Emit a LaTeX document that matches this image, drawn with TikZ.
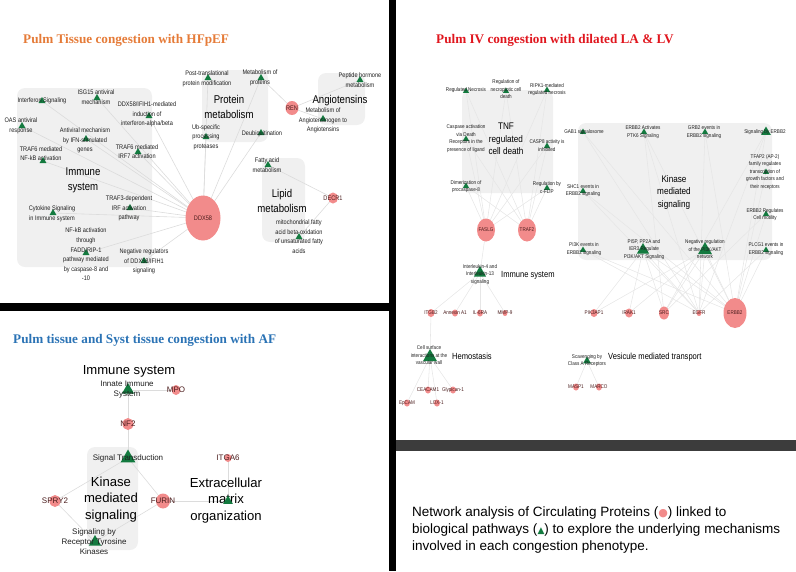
\documentclass[tikz,border=0pt]{standalone}
\usepackage{fontspec}
\setmainfont{Liberation Sans}
\newfontfamily\nar[FakeStretch=0.85]{Liberation Sans}
\newfontfamily\ttlfont{Liberation Serif}
\newfontfamily\symfont{DejaVu Sans}
\usetikzlibrary{shapes.geometric}
\definecolor{protpink}{HTML}{F28B8B}
\definecolor{pwgreen}{HTML}{137A3F}
\definecolor{boxgray}{HTML}{F0F0F0}
\definecolor{edgegray}{HTML}{DCDCDC}
\definecolor{edgegray2}{HTML}{E6E6E6}
\definecolor{lbltext}{HTML}{1E1E1E}
\definecolor{plbltext}{HTML}{4A1C1C}
\definecolor{torange}{HTML}{E57B38}
\definecolor{tred}{HTML}{E0161E}
\definecolor{tblue}{HTML}{2B73B5}
\definecolor{bargray}{HTML}{3C3C3C}
\pgfdeclarelayer{boxes}
\pgfdeclarelayer{edges}
\pgfsetlayers{boxes,edges,main}
\tikzset{
  tri/.style={regular polygon, regular polygon sides=3, fill=pwgreen, draw=none, inner sep=0pt, minimum size=#1},
  tri/.default=8,
  prot/.style 2 args={ellipse, fill=protpink, draw=none, inner sep=0pt, minimum width=#1, minimum height=#2},
  regbox/.style={fill=boxgray, draw=none, rounded corners=8pt},
  lnk/.style={draw=edgegray, line width=0.6pt},
  lnkb/.style={draw=edgegray2, line width=0.55pt},
  lone/.style={font=\nar\fontsize{6.6}{9.6}\selectfont, align=center, text=lbltext, inner sep=0pt},
  bigone/.style={font=\nar\fontsize{11.3}{15}\selectfont, align=center, text=black, inner sep=0pt},
  ltwo/.style={font=\nar\fontsize{5.4}{7.5}\selectfont, align=center, text=lbltext, inner sep=0pt},
  bigtwo/.style={font=\nar\fontsize{9.6}{12.3}\selectfont, align=center, text=black, inner sep=0pt},
  regtwo/.style={font=\nar\fontsize{8.9}{11}\selectfont, text=black, inner sep=0pt, anchor=west},
  lthree/.style={font=\fontsize{8}{10}\selectfont, align=center, text=lbltext, inner sep=0pt},
  bigthree/.style={font=\fontsize{13.1}{16.5}\selectfont, align=center, text=black, inner sep=0pt},
  pl1/.style={font=\nar\fontsize{6.6}{8}\selectfont, text=plbltext, inner sep=0pt},
  pl2/.style={font=\nar\fontsize{5.4}{7}\selectfont, text=plbltext, inner sep=0pt},
  pl3/.style={font=\fontsize{8}{10}\selectfont, text=plbltext, inner sep=0pt},
  ttl/.style={font=\ttlfont\bfseries\fontsize{13.2}{15}\selectfont, anchor=west, inner sep=0pt}
}
\begin{document}
\begin{tikzpicture}[x=1pt,y=-1pt]
\useasboundingbox (0,0) rectangle (796,571);
% separators
\fill[black] (389,0) rectangle (396,571);
\fill[black] (0,303) rectangle (389,311);
\fill[bargray] (396,440) rectangle (796,451);

% titles
\node[ttl, text=torange] (t1) at (23,40) {Pulm Tissue congestion with HFpEF};
\node[ttl, text=tred] (t2) at (436,40) {Pulm IV congestion with dilated LA \& LV};
\node[ttl, text=tblue] (t3) at (13,340) {Pulm tissue and Syst tissue congestion with AF};

% ================= Panel 1 =================
\begin{pgfonlayer}{boxes}
\fill[regbox] (17,88) rectangle (152,267);
\fill[regbox] (202,70) rectangle (268,142);
\fill[regbox] (318,73) rectangle (365,125);
\fill[regbox] (262,158) rectangle (305,242);
\end{pgfonlayer}
\node[bigone] (g1) at (83,180) {Immune\\system};
\node[bigone] (g2) at (229,106.5) {Protein\\metabolism};
\node[bigone] (g3) at (340,101) {Angiotensins};
\node[bigone] (g4) at (282,201) {Lipid\\metabolism};

\node[tri=8] (a1) at (42,101) {};
\node[tri=8] (a2) at (97,98) {};
\node[tri=8] (a3) at (22,126) {};
\node[tri=8] (a4) at (149,116) {};
\node[tri=8] (a5) at (86,139) {};
\node[tri=8] (a6) at (43,161) {};
\node[tri=8] (a7) at (138,152) {};
\node[tri=8] (a8) at (53,213) {};
\node[tri=8] (a9) at (130,208) {};
\node[tri=8] (a10) at (86,253) {};
\node[tri=8] (a11) at (144,261) {};
\node[tri=8] (a12) at (208,78) {};
\node[tri=8] (a13) at (261,78) {};
\node[tri=8] (a14) at (206,137) {};
\node[tri=8] (a15) at (261,133) {};
\node[tri=8] (a16) at (360,80) {};
\node[tri=8] (a17) at (323,119) {};
\node[tri=8] (a18) at (268,165) {};
\node[tri=8] (a19) at (299,237) {};

\node[lone] (a1l) at (42,101) {Interferon Signaling};
\node[lone] (a2l) at (96,97) {ISG15 antiviral\\mechanism};
\node[lone] (a3l) at (21,126) {OAS antiviral\\response};
\node[lone] (a4l) at (147,114.5) {DDX58/IFIH1-mediated\\induction of\\interferon-alpha/beta};
\node[lone] (a5l) at (85,140.5) {Antiviral mechanism\\by IFN-stimulated\\genes};
\node[lone] (a6l) at (41,153.5) {TRAF6 mediated\\NF-kB activation};
\node[lone] (a7l) at (137,151.5) {TRAF6 mediated\\IRF7 activation};
\node[lone] (a8l) at (52,213.5) {Cytokine Signaling\\in Immune system};
\node[lone] (a9l) at (129,208.5) {TRAF3-dependent\\IRF activation\\pathway};
\node[lone] (a10l) at (86,254.5) {NF-kB activation\\through\\FADD/RIP-1\\pathway mediated\\by caspase-8 and\\-10};
\node[lone] (a11l) at (144,261.5) {Negative regulators\\of DDX58/IFIH1\\signaling};
\node[lone] (a12l) at (207,78.5) {Post-translational\\protein modification};
\node[lone] (a13l) at (260,78) {Metabolism of\\proteins};
\node[lone] (a14l) at (206,137) {Ub-specific\\processing\\proteases};
\node[lone] (a15l) at (262,134) {Deubiquitination};
\node[lone] (a16l) at (360,80) {Peptide hormone\\metabolism};
\node[lone] (a17l) at (323,120.5) {Metabolism of\\Angiotensinogen to\\Angiotensins};
\node[lone] (a18l) at (267,165) {Fatty acid\\metabolism};
\node[lone] (a19l) at (299,236.5) {mitochondrial fatty\\acid beta-oxidation\\of unsaturated fatty\\acids};

\node[prot={35pt}{45pt}, label={[pl1]center:DDX58}] (ddx) at (203,218) {};
\node[prot={13pt}{14pt}, label={[pl1]center:REN}] (ren) at (292,108) {};
\node[prot={10pt}{11pt}, label={[pl1]center:DECR1}] (decr) at (333,198) {};

\begin{pgfonlayer}{edges}
\foreach \tg in {a1,a2,a3,a4,a5,a6,a7,a8,a9,a10,a11,a12,a13,a14,a15}
  \draw[lnk] (ddx.center) -- (\tg.center);
\foreach \tg in {a13,a16,a17}
  \draw[lnk] (ren.center) -- (\tg.center);
\foreach \tg in {a18,a19}
  \draw[lnk] (decr.center) -- (\tg.center);
\end{pgfonlayer}

% ================= Panel 2 =================
\begin{pgfonlayer}{boxes}
\fill[regbox] (462,90) rectangle (553,193);
\fill[regbox] (578,123) rectangle (772,260);
\end{pgfonlayer}
\node[bigtwo] (h1) at (506,139) {TNF\\regulated\\cell death};
\node[bigtwo] (h2) at (674,192.5) {Kinase\\mediated\\signaling};
\node[regtwo] (h3) at (501,275) {Immune system};
\node[regtwo] (h4) at (452,356) {Hemostasis};
\node[regtwo] (h5) at (608,357) {Vesicule mediated transport};

\node[tri=7] (b1) at (466,91) {};
\node[tri=7] (b2) at (506,91) {};
\node[tri=7] (b3) at (547,90) {};
\node[tri=7] (b4) at (466,139) {};
\node[tri=7] (b5) at (547,146) {};
\node[tri=7] (b6) at (466,186) {};
\node[tri=7] (b7) at (547,188) {};
\node[tri=7] (b8) at (583,132) {};
\node[tri=7] (b9) at (644,132) {};
\node[tri=7] (b10) at (705,132) {};
\node[tri=11] (b11) at (766,132) {};
\node[tri=7] (b12) at (766,172) {};
\node[tri=7] (b13) at (766,214) {};
\node[tri=7] (b14) at (583,191) {};
\node[tri=7] (b15) at (583,250) {};
\node[tri=14] (b16) at (643,250) {};
\node[tri=16] (b17) at (705,250) {};
\node[tri=7] (b18) at (766,250) {};
\node[tri=14] (b19) at (480,273) {};
\node[tri=16] (b20) at (430,357) {};
\node[tri=9] (b21) at (587,361) {};

\node[ltwo] (b1l) at (466,90) {Regulated Necrosis};
\node[ltwo] (b2l) at (506,89.5) {Regulation of\\necroptotic cell\\death};
\node[ltwo] (b3l) at (547,89.5) {RIPK1-mediated\\regulated necrosis};
\node[ltwo] (b4l) at (466,138.5) {Caspase activation\\via Death\\Receptors in the\\presence of ligand};
\node[ltwo] (b5l) at (547,145.5) {CASP8 activity is\\inhibited};
\node[ltwo] (b6l) at (466,186.5) {Dimerization of\\procaspase-8};
\node[ltwo] (b7l) at (547,187.5) {Regulation by\\c-FLIP};
\node[ltwo] (b8l) at (584,132) {GAB1 signalosome};
\node[ltwo] (b9l) at (643,132) {ERBB2 Activates\\PTK6 Signaling};
\node[ltwo] (b10l) at (704,132) {GRB2 events in\\ERBB2 signaling};
\node[ltwo] (b11l) at (765,132) {Signaling by ERBB2};
\node[ltwo] (b12l) at (765,172) {TFAP2 (AP-2)\\family regulates\\transcription of\\growth factors and\\their receptors};
\node[ltwo] (b13l) at (765,214.5) {ERBB2 Regulates\\Cell motility};
\node[ltwo] (b14l) at (583,190.5) {SHC1 events in\\ERBB2 signaling};
\node[ltwo] (b15l) at (584,249) {PI3K events in\\ERBB2 signaling};
\node[ltwo] (b16l) at (644,249.5) {PI5P, PP2A and\\IER3 Regulate\\PI3K/AKT Signaling};
\node[ltwo] (b17l) at (705,249.5) {Negative regulation\\of the PI3K/AKT\\network};
\node[ltwo] (b18l) at (766,249) {PLCG1 events in\\ERBB2 signaling};
\node[ltwo] (b19l) at (480,274.5) {Interleukin-4 and\\Interleukin-13\\signaling};
\node[ltwo] (b20l) at (429,355.5) {Cell surface\\interactions at the\\vascular wall};
\node[ltwo] (b21l) at (587,360.5) {Scavenging by\\Class A Receptors};

\node[prot={18pt}{23pt}, label={[pl2]center:FASLG}] (faslg) at (486,230) {};
\node[prot={18pt}{23pt}, label={[pl2]center:TRAF2}] (traf2) at (527,230) {};
\node[prot={7pt}{8pt}, label={[pl2]center:ITGB2}] (itgb2) at (431,313) {};
\node[prot={6pt}{7pt}, label={[pl2]center:Annexin A1}] (anx) at (455,313) {};
\node[prot={6pt}{7pt}, label={[pl2]center:IL-6RA}] (il6) at (480,313) {};
\node[prot={5pt}{6pt}, label={[pl2]center:MMP-9}] (mmp) at (505,313) {};
\node[prot={7pt}{8pt}, label={[pl2]center:PIK3AP1}] (pik) at (594,313) {};
\node[prot={8pt}{9pt}, label={[pl2]center:IRAK1}] (irak) at (629,313) {};
\node[prot={10pt}{13pt}, label={[pl2]center:SRC}] (src) at (664,313) {};
\node[prot={5pt}{6pt}, label={[pl2]center:EGFR}] (egfr) at (699,313) {};
\node[prot={23pt}{30pt}, label={[pl2]center:ERBB2}] (erbb) at (735,313) {};
\node[prot={6pt}{7pt}, label={[pl2]center:CEACAM1}] (cea) at (428,390) {};
\node[prot={6pt}{7pt}, label={[pl2]center:Glypican-1}] (gly) at (453,390) {};
\node[prot={6pt}{7pt}, label={[pl2]center:EpCAM}] (epc) at (407,403) {};
\node[prot={6pt}{7pt}, label={[pl2]center:LOX-1}] (lox) at (437,403) {};
\node[prot={6pt}{7pt}, label={[pl2]center:MASP1}] (masp) at (576,387) {};
\node[prot={6pt}{7pt}, label={[pl2]center:MARCO}] (marco) at (599,387) {};

\begin{pgfonlayer}{edges}
\foreach \sr in {faslg,traf2}
  \foreach \tg in {b1,b2,b3,b4,b5,b6,b7}
    \draw[lnkb] (\sr.center) -- (\tg.center);
\draw[lnkb] (faslg.center) -- (b19.center);
\foreach \sr in {itgb2,anx,il6,mmp}
  \draw[lnkb] (\sr.center) -- (b19.center);
\draw[lnkb] (itgb2.center) -- (b20.center);
\foreach \tg in {cea,gly,epc,lox}
  \draw[lnkb] (b20.center) -- (\tg.center);
\foreach \tg in {masp,marco}
  \draw[lnkb] (b21.center) -- (\tg.center);
\foreach \tg in {b8,b9,b10,b11,b12,b13,b14,b15,b16,b17,b18}
  \draw[lnkb] (erbb.center) -- (\tg.center);
\foreach \tg in {b8,b9,b10,b11,b14,b15,b16,b17,b18}
  \draw[lnkb] (egfr.center) -- (\tg.center);
\foreach \tg in {b9,b11,b13,b16,b17}
  \draw[lnkb] (src.center) -- (\tg.center);
\foreach \tg in {b16,b17}
  \draw[lnkb] (pik.center) -- (\tg.center);
\foreach \tg in {b16,b17}
  \draw[lnkb] (irak.center) -- (\tg.center);
\end{pgfonlayer}

% ================= Panel 3 =================
\begin{pgfonlayer}{boxes}
\fill[regbox] (87,447) rectangle (138,550);
\end{pgfonlayer}
\node[bigthree] (k1) at (129,371) {Immune system};
\node[bigthree] (k2) at (111,499.5) {Kinase\\mediated\\signaling};
\node[bigthree] (k3) at (226,500.5) {Extracellular\\matrix\\organization};

\node[tri=14] (c1) at (128,390) {};
\node[tri=17] (c2) at (128,458) {};
\node[tri=14] (c3) at (95,542) {};
\node[tri=11] (c4) at (228,501) {};

\node[lthree] (c1l) at (127,390) {Innate Immune\\System};
\node[lthree] (c2l) at (128,458) {Signal Transduction};
\node[lthree] (c3l) at (94,542) {Signaling by\\Receptor Tyrosine\\Kinases};

\node[prot={9pt}{10pt}, label={[pl3]center:MPO}] (mpo) at (176,390) {};
\node[prot={11pt}{12pt}, label={[pl3]center:NF2}] (nf2) at (128,424) {};
\node[prot={11pt}{12pt}, label={[pl3]center:SPRY2}] (spry) at (55,501) {};
\node[prot={14pt}{15pt}, label={[pl3]center:FURIN}] (furin) at (163,501) {};
\node[prot={7pt}{8pt}, label={[pl3]center:ITGA6}] (itga) at (228,458) {};

\begin{pgfonlayer}{edges}
\draw[lnk] (c1.center) -- (mpo.center);
\draw[lnk] (c1.center) -- (nf2.center);
\draw[lnk] (nf2.center) -- (c2.center);
\draw[lnk] (c2.center) -- (spry.center);
\draw[lnk] (c2.center) -- (furin.center);
\draw[lnk] (spry.center) -- (c3.center);
\draw[lnk] (furin.center) -- (c3.center);
\draw[lnk] (furin.center) -- (c4.center);
\draw[lnk] (itga.center) -- (c4.center);
\end{pgfonlayer}

% ================= Legend text =================
\node[font=\fontsize{13.5}{17}\selectfont, align=left, anchor=west, inner sep=0pt, text=black] (legend) at (412,530)
  {Network analysis of Circulating Proteins ({\symfont\fontsize{11}{11}\selectfont\textcolor{protpink}{●}}) linked to\\
   biological pathways ({\symfont\fontsize{9}{9}\selectfont\textcolor{pwgreen}{▲}}) to explore the underlying mechanisms\\
   involved in each congestion phenotype.};
\end{tikzpicture}
\end{document}
